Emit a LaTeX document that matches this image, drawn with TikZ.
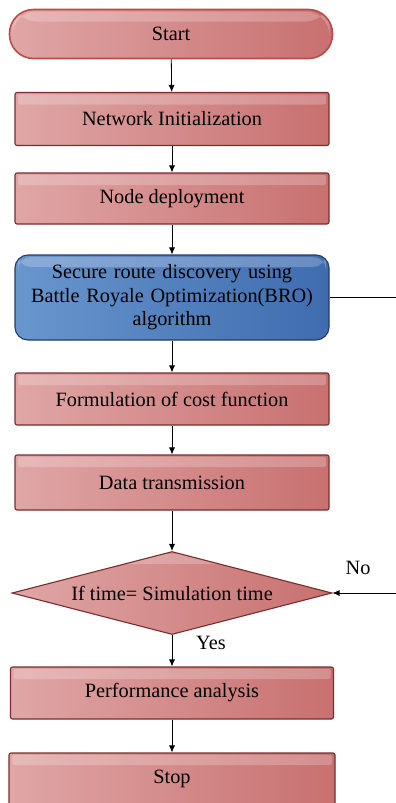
\documentclass[tikz,border=0pt]{standalone}
\usepackage{fontspec}
\setmainfont{Liberation Serif}
\usepackage{tikz}
\usetikzlibrary{positioning}
\usetikzlibrary{arrows.meta, shapes.geometric}
\definecolor{redlight}{RGB}{224,166,166}
\definecolor{reddark}{RGB}{200,112,112}
\definecolor{redline}{RGB}{120,45,45}
\definecolor{startline}{RGB}{185,75,72}
\definecolor{bluelight}{RGB}{105,150,205}
\definecolor{bluedark}{RGB}{62,108,175}
\definecolor{blueline}{RGB}{35,60,100}

\begin{document}
\begin{tikzpicture}[x=1pt,y=-1pt,
        every node/.style={font=\fontsize{20.3}{23.5}\selectfont},
        gloss/.style={path picture={\fill[white, opacity=0.22] ([xshift=3pt,yshift=-2pt]path picture bounding box.north west) rectangle ([xshift=-3pt,yshift=-12pt]path picture bounding box.north east);}},
        procbox/.style={rectangle, draw=redline, line width=1.1pt, left color=redlight, right color=reddark, minimum width=314pt, minimum height=53pt, rounded corners=2pt, gloss},
        startbox/.style={procbox, draw=startline, line width=1.6pt, rounded corners=24pt, minimum width=323pt, minimum height=49pt},
        routebox/.style={procbox, draw=blueline, left color=bluelight, right color=bluedark, rounded corners=13pt, minimum height=85pt, text width=300pt, align=center},
        testbox/.style={diamond, draw=redline, line width=1.1pt, left color=redlight, right color=reddark, aspect=3.86, minimum width=320pt, minimum height=83pt, inner sep=0pt, gloss},
        flow/.style={-{Latex[length=7pt,width=6pt]}, line width=0.8pt}]
        \useasboundingbox (0,0) rectangle (396,803);
        % main chain
        \node[startbox] (start) at (171,34) {Start};
        \node[procbox] (init) at (172,119) {Network Initialization};
        \node[procbox, minimum height=51pt] (deploy) at (172,198.5) {Node deployment};
        \node[routebox] (route) at (172,297.5) {Secure route discovery using\\Battle Royale Optimization(BRO)\\algorithm};
        \node[procbox, minimum height=52pt] (cost) at (172,399) {Formulation of cost function};
        \node[procbox, minimum height=55pt] (data) at (172,482.5) {Data transmission};
        \node[testbox] (test) at (172,593) {If time= Simulation time};
        \node[procbox, minimum width=323pt, minimum height=52pt] (perf) at (172,693) {Performance analysis};
        \node[procbox, minimum width=326pt, minimum height=52pt] (stop) at (172,779) {Stop};
        % labels
        \node (yes) at (211,643) {Yes};
        \node (no) at (358,568) {No};
        \coordinate (routeout) at (396,297.5);
        \coordinate (loopin) at (396,593);
        % connectors
        \draw[flow] (start) -- (init);
        \draw[flow] (init) -- (deploy);
        \draw[flow] (deploy) -- (route);
        \draw[flow] (route) -- (cost);
        \draw[flow] (cost) -- (data);
        \draw[flow] (data) -- (test);
        \draw[flow] (test) -- (perf);
        \draw[flow] (perf) -- (stop);
        \draw[line width=0.8pt] (route) -- (routeout);
        \draw[flow] (loopin) -- (test);
    \end{tikzpicture}
\end{document}
